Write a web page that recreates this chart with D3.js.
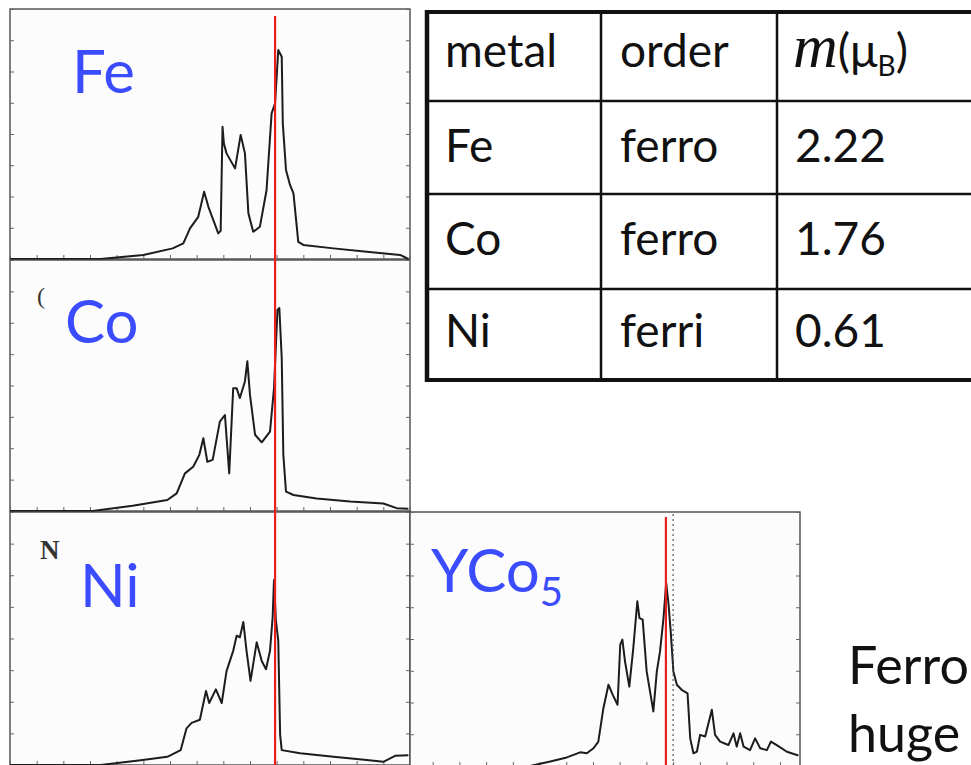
<!DOCTYPE html>
<html>
<head>
<meta charset="utf-8">
<script src="https://cdn.jsdelivr.net/npm/d3@7"></script>
<style>
  html, body { margin: 0; padding: 0; background: #fff; overflow: hidden; }
  svg { display: block; }
</style>
</head>
<body>
<svg id="chart" width="971" height="765"></svg>
<script>
// ---------------- data (energy relative to E_F, DOS in arbitrary units) ----------------
const feCurve = [[-10,0],[-6.6,0],[-5.0,0.13],[-3.9,0.34],[-3.5,0.5],[-3.25,0.98],[-2.94,1.35],[-2.72,2.15],[-2.56,1.67],[-2.19,0.82],[-2.1,0.9],[-2.03,4.23],[-1.98,3.7],[-1.88,3.38],[-1.56,2.9],[-1.35,3.97],[-1.19,3.38],[-1.06,1.46],[-0.88,0.87],[-0.63,1.03],[-0.38,2.2],[-0.19,4.66],[-0.06,4.98],[0.06,6.69],[0.19,6.47],[0.23,4.34],[0.35,2.85],[0.5,2.37],[0.63,2.1],[0.81,0.55],[1.0,0.45],[2.13,0.34],[3.38,0.23],[4.63,0.13],[4.94,0]];
const coCurve = [[-10,0],[-6.9,0],[-5.4,0.17],[-4.1,0.35],[-3.75,0.56],[-3.44,1.2],[-3.13,1.41],[-2.9,1.79],[-2.75,2.32],[-2.6,1.57],[-2.4,1.63],[-2.13,2.85],[-1.94,3.06],[-1.78,1.2],[-1.63,3.91],[-1.5,3.91],[-1.38,3.6],[-1.19,4.13],[-1.1,4.77],[-1.0,3.7],[-0.81,2.43],[-0.56,2.19],[-0.25,2.53],[-0.1,3.91],[0.03,6.41],[0.1,6.47],[0.19,4.87],[0.25,1.79],[0.35,0.62],[0.63,0.51],[1.5,0.4],[2.75,0.3],[4.0,0.24],[4.5,0.09],[4.94,0.07]];
const niCurve = [[-10,0],[-6.6,0],[-5.1,0.15],[-4.1,0.26],[-3.6,0.47],[-3.38,1.16],[-3.19,1.33],[-2.88,1.43],[-2.65,2.34],[-2.53,1.96],[-2.28,2.39],[-2.06,1.96],[-1.88,2.97],[-1.63,3.61],[-1.5,4.09],[-1.38,4.04],[-1.25,4.52],[-1.13,3.61],[-0.98,2.66],[-0.75,3.88],[-0.56,3.29],[-0.4,3.03],[-0.25,3.61],[-0.15,4.68],[-0.1,5.85],[-0.03,4.57],[0.06,3.93],[0.13,0.95],[0.19,0.47],[0.88,0.37],[2.13,0.26],[3.38,0.16],[4.0,0.1],[4.44,0.29],[4.94,0.31]];
const yco5Curve = [[-9.85,0],[-5.36,0],[-4.6,0.14],[-3.98,0.27],[-3.48,0.43],[-3.23,0.4],[-2.98,0.56],[-2.8,0.77],[-2.61,1.82],[-2.42,2.56],[-2.26,2.24],[-2.08,1.93],[-1.98,3.82],[-1.9,3.98],[-1.8,3.29],[-1.64,2.5],[-1.49,3.72],[-1.34,5.19],[-1.26,4.66],[-1.14,4.61],[-0.99,2.98],[-0.74,1.72],[-0.61,2.98],[-0.49,3.61],[-0.36,4.66],[-0.26,5.77],[-0.17,5.08],[-0.09,4.24],[0.01,2.98],[0.14,2.56],[0.32,2.4],[0.54,2.29],[0.64,0.87],[0.76,0.4],[0.89,0.45],[1.01,0.98],[1.2,0.93],[1.45,1.77],[1.57,0.98],[1.76,0.77],[2.07,0.66],[2.26,1.03],[2.38,0.61],[2.51,1.03],[2.64,0.61],[2.88,0.5],[3.07,0.87],[3.26,0.56],[3.51,0.5],[3.66,0.77],[3.88,0.66],[4.26,0.45],[4.69,0.33]];

const panelNames = ["Fe", "Co", "Ni", "YCo"];
const fermiMarkLeft = -0.06;   // red marker, left column
const fermiMarkYCo5 = -0.27;   // red marker, YCo5 panel
const fermiDotted = 0;         // dotted E_F line in YCo5 panel

const tableHeader = ["metal", "order", "m"];
const tableMetals = ["Fe", "Co", "Ni"];
const tableOrders = ["ferro", "ferro", "ferri"];
const tableMoments = ["2.22", "1.76", "0.61"];

const sideLines = ["Ferro", "huge"];

// ---------------- drawing ----------------
const svg = d3.select("#chart");
const BLUE = "#3b4cff";
const CURVE = "#1c1c1c";
const FRAME = "#4a4a4a";

const leftX = d3.scaleLinear().domain([-10, 5]).range([10, 410]);
const rightX = d3.scaleLinear().domain([-9.85, 4.75]).range([410, 800]);

const panels = [
  {name: panelNames[0], data: feCurve, x: leftX, top: 9, bottom: 259, lx: 72, ly: 93},
  {name: panelNames[1], data: coCurve, x: leftX, top: 260, bottom: 511, lx: 65, ly: 343},
  {name: panelNames[2], data: niCurve, x: leftX, top: 512, bottom: 765, lx: 80, ly: 607},
  {name: panelNames[3], data: yco5Curve, x: rightX, top: 512, bottom: 766, lx: 431, ly: 592, sub: "5"}
];

panels.forEach(p => {
  const y = d3.scaleLinear().domain([0, 8]).range([p.bottom, p.top]);
  const [x0, x1] = p.x.range();
  const g = svg.append("g");

  g.append("rect").attr("x", x0).attr("y", p.top).attr("width", x1 - x0).attr("height", p.bottom - p.top)
    .attr("fill", "#fcfcfc").attr("stroke", FRAME).attr("stroke-width", 1.4);

  const tickStyle = sel => {
    sel.select(".domain").remove();
    sel.selectAll(".tick line").attr("stroke", "#666").attr("stroke-width", 1);
  };
  g.append("g").attr("transform", `translate(0,${p.bottom})`)
    .call(d3.axisBottom(p.x).ticks(15).tickSize(-4).tickFormat("")).call(tickStyle);
  g.append("g").attr("transform", `translate(${x0},0)`)
    .call(d3.axisLeft(y).ticks(8).tickSize(-4).tickFormat("")).call(tickStyle);
  g.append("g").attr("transform", `translate(${x1},0)`)
    .call(d3.axisRight(y).ticks(8).tickSize(-4).tickFormat("")).call(tickStyle);

  const line = d3.line().x(d => p.x(d[0])).y(d => y(d[1]));
  g.append("path").datum(p.data).attr("d", line)
    .attr("fill", "none").attr("stroke", CURVE).attr("stroke-width", 2).attr("stroke-linejoin", "round");

  const t = g.append("text").attr("x", p.lx).attr("y", p.ly)
    .attr("font-family", "Lato, 'Open Sans', sans-serif").attr("font-size", 60).attr("fill", BLUE).text(p.name);
  if (p.sub) t.append("tspan").attr("font-size", 40).attr("dy", 14).text(p.sub);
});

// remnants of original panel labels
svg.append("text").attr("x", 37).attr("y", 304).attr("font-family", "'Liberation Serif', serif")
  .attr("font-size", 24).attr("fill", "#333").text("(");
svg.append("text").attr("x", 40).attr("y", 559).attr("font-family", "'Liberation Serif', 'DejaVu Serif', serif")
  .attr("font-weight", "bold").attr("font-size", 27).attr("fill", "#333").text("N");

// Fermi-level markers
const yRedL = d3.scaleLinear().domain([0, 1]).range([765, 16]);
svg.append("line").attr("x1", leftX(fermiMarkLeft)).attr("x2", leftX(fermiMarkLeft))
  .attr("y1", yRedL(0)).attr("y2", yRedL(1)).attr("stroke", "#e8201a").attr("stroke-width", 2.2);
svg.append("line").attr("x1", rightX(fermiDotted)).attr("x2", rightX(fermiDotted))
  .attr("y1", 514).attr("y2", 765).attr("stroke", "#555").attr("stroke-width", 1.2).attr("stroke-dasharray", "2,3");
svg.append("line").attr("x1", rightX(fermiMarkYCo5)).attr("x2", rightX(fermiMarkYCo5))
  .attr("y1", 517).attr("y2", 765).attr("stroke", "#e8201a").attr("stroke-width", 2.2);

// ---------------- table ----------------
const tbl = svg.append("g");
const colX = [427, 601, 777, 1000];
const rowY = [12, 101, 194, 289, 380];
tbl.append("rect").attr("x", colX[0]).attr("y", rowY[0]).attr("width", 600).attr("height", rowY[4] - rowY[0])
  .attr("fill", "#fff").attr("stroke", "none");
[1, 2, 3].forEach(i => tbl.append("line").attr("x1", colX[0]).attr("x2", 971).attr("y1", rowY[i]).attr("y2", rowY[i])
  .attr("stroke", "#111").attr("stroke-width", 2.5));
[1, 2].forEach(i => tbl.append("line").attr("x1", colX[i]).attr("x2", colX[i]).attr("y1", rowY[0]).attr("y2", rowY[4])
  .attr("stroke", "#111").attr("stroke-width", 2.5));
tbl.append("line").attr("x1", colX[0]).attr("x2", 971).attr("y1", rowY[0]).attr("y2", rowY[0]).attr("stroke", "#111").attr("stroke-width", 4);
tbl.append("line").attr("x1", colX[0]).attr("x2", 971).attr("y1", rowY[4]).attr("y2", rowY[4]).attr("stroke", "#111").attr("stroke-width", 4);
tbl.append("line").attr("x1", colX[0]).attr("x2", colX[0]).attr("y1", rowY[0] - 2).attr("y2", rowY[4] + 2).attr("stroke", "#111").attr("stroke-width", 4.5);

const TF = "Lato, 'Open Sans', sans-serif";
const textX = [445, 620, 795];
const baseY = [67, 162, 255, 347];
tbl.append("text").attr("x", textX[0]).attr("y", baseY[0]).attr("font-family", TF).attr("font-size", 46).attr("fill", "#111").text(tableHeader[0]);
tbl.append("text").attr("x", textX[1]).attr("y", baseY[0]).attr("font-family", TF).attr("font-size", 46).attr("fill", "#111").text(tableHeader[1]);
const mh = tbl.append("text").attr("x", textX[2] - 2).attr("y", baseY[0]).attr("fill", "#111");
mh.append("tspan").attr("font-family", "'Liberation Serif', 'DejaVu Serif', serif").attr("font-style", "italic").attr("font-size", 62).text(tableHeader[2]);
mh.append("tspan").attr("font-family", TF).attr("font-size", 46).text("(μ");
mh.append("tspan").attr("font-family", TF).attr("font-size", 28).attr("dy", 9).text("B");
mh.append("tspan").attr("font-family", TF).attr("font-size", 46).attr("dy", -9).text(")");

tableMetals.forEach((m, i) => {
  const yy = baseY[i + 1];
  tbl.append("text").attr("x", textX[0]).attr("y", yy).attr("font-family", TF).attr("font-size", 46).attr("fill", "#111").text(m);
  tbl.append("text").attr("x", textX[1]).attr("y", yy).attr("font-family", TF).attr("font-size", 46).attr("fill", "#111").text(tableOrders[i]);
  tbl.append("text").attr("x", textX[2]).attr("y", yy).attr("font-family", TF).attr("font-size", 46).attr("fill", "#111").text(tableMoments[i]);
});

// ---------------- side text ----------------
sideLines.forEach((s, i) => {
  svg.append("text").attr("x", 848).attr("y", [684, 752][i]).attr("font-family", TF)
    .attr("font-size", 52).attr("fill", "#111").text(s);
});
</script>
</body>
</html>
